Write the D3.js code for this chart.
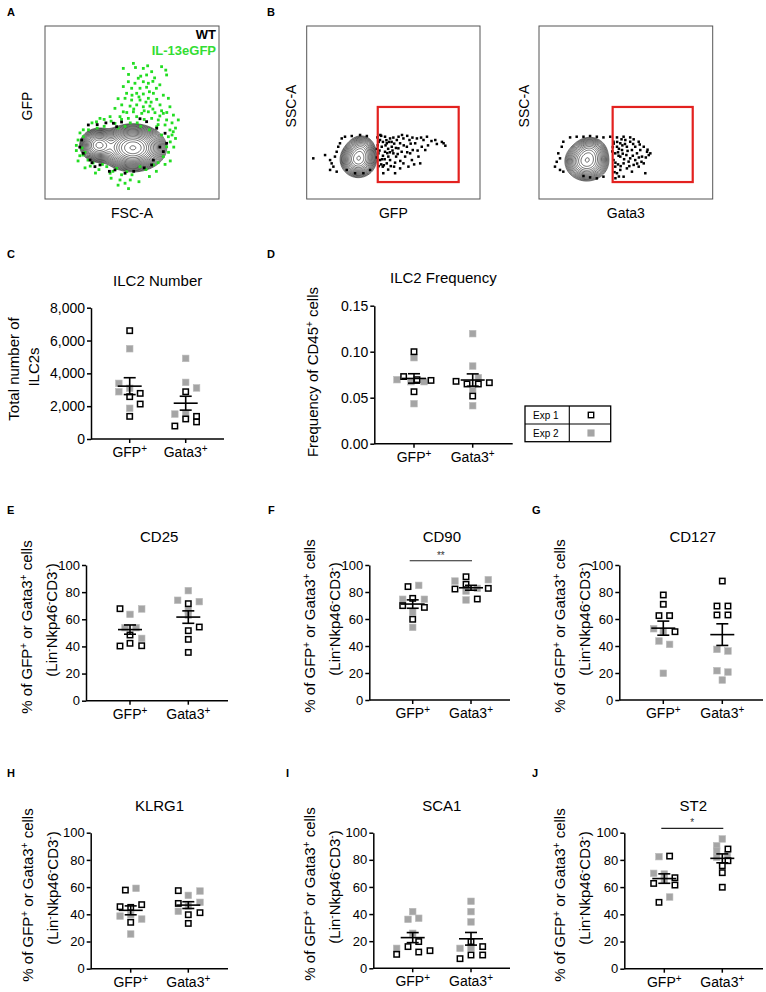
<!DOCTYPE html>
<html><head><meta charset="utf-8">
<script src="https://cdn.jsdelivr.net/npm/d3@7"></script>
<style>
body{margin:0;background:#fff;}
svg{display:block;font-family:"Liberation Sans",Arial,sans-serif;}
</style></head><body>
<svg id="fig" width="766" height="992"></svg>
<script>
// ================= DATA =================
const groups = ["GFP+", "Gata3+"];
const experiments = ["Exp 1", "Exp 2"];
const pctTicks = [0, 20, 40, 60, 80, 100];
const numberTicks = [0, 2000, 4000, 6000, 8000];
const freqTicks = [0, 0.05, 0.10, 0.15];

// each point: [value, column slot in the scatter (marker widths)]
const numberExp1 = {"GFP+": [[6600,0],[2780,1.5],[2580,0],[2130,1.5],[1380,0]],
                    "Gata3+": [[2880,0],[1220,0],[1380,1.55],[1040,1.55],[790,-1.55]]};
const numberExp2 = {"GFP+": [[5500,0],[3390,-1.55],[2880,-1.55],[3090,0],[1870,0]],
                    "Gata3+": [[4910,0],[3450,0],[3110,1.55],[1520,-1.55],[1520,0]]};

const freqExp1 = {"GFP+": [[0.100,0],[0.073,-1.48],[0.0696,0.43],[0.0688,2.43],[0.0565,0]],
                  "Gata3+": [[0.0678,-2.38],[0.0649,-0.81],[0.0649,0.81],[0.0663,2.38],[0.0518,0]]};
const freqExp2 = {"GFP+": [[0.0935,0],[0.0696,-2.43],[0.0674,-0.43],[0.0674,1.43],[0.0435,0]],
                  "Gata3+": [[0.1196,0],[0.0844,0],[0.0717,0.81],[0.0594,0],[0.0413,0]]};

const cd25Exp1 = {"GFP+": [[67.8,-1.43],[48.4,0],[42.3,0],[40.3,-1.43],[40.5,1.67]],
                  "Gata3+": [[71.5,0],[54.3,1.57],[51.6,0],[45.2,0],[35.6,0]]};
const cd25Exp2 = {"GFP+": [[63.6,0],[67.6,1.67],[53.8,-0.71],[53.8,0.86],[45.9,1.67]],
                  "Gata3+": [[81.1,0],[74.0,-1.52],[73.0,1.57],[66.8,0],[63.1,0]]};

const cd90Exp1 = {"GFP+": [[84.0,-0.67],[75.3,0],[69.9,-1.43],[68.6,1.67],[59.8,0]],
                  "Gata3+": [[91.3,-0.71],[85.7,-0.71],[82.2,-2.29],[82.7,2.47],[74.8,0.9]]};
const cd90Exp2 = {"GFP+": [[84.9,0.86],[74.6,-1.43],[74.6,1.67],[65.2,0],[53.8,0]],
                  "Gata3+": [[88.1,-2.29],[89.1,2.47],[82.7,0.9],[80.7,-0.71],[74.1,-0.71]]};

const cd127Exp1 = {"GFP+": [[77.8,0],[70.9,0],[62.5,-0.62],[62.5,0.9],[50.6,1.67]],
                   "Gata3+": [[88.1,0],[69.6,-0.76],[69.6,0.81],[63.0,-0.76],[63.0,0.81]]};
const cd127Exp2 = {"GFP+": [[52.8,-1.38],[50.4,0],[43.7,-0.62],[41.2,0.9],[19.8,0]],
                   "Gata3+": [[37.5,-0.76],[36.3,0.81],[21.7,-0.76],[20.7,0.81],[14.8,0]]};

const klrg1Exp1 = {"GFP+": [[57.8,-0.76],[45.6,-1.52],[45.1,0],[47.1,1.57],[34.1,0]],
                   "Gata3+": [[57.4,-1.43],[48.0,-1.43],[41.2,1.67],[39.7,0],[33.3,0]]};
const klrg1Exp2 = {"GFP+": [[59.1,0.76],[38.7,-1.52],[39.7,0],[36.5,1.57],[25.5,0]],
                   "Gata3+": [[57.1,1.67],[53.9,0],[48.8,1.67],[46.0,0],[42.2,-1.43]]};

const sca1Exp1 = {"GFP+": [[19.7,0.86],[16.0,-0.67],[10.3,-2.29],[12.0,0.86],[13.0,2.47]],
                  "Gata3+": [[19.7,0],[16.0,1.67],[7.1,-1.57],[9.8,0],[9.8,1.67]]};
const sca1Exp2 = {"GFP+": [[41.8,0],[36.1,-0.67],[36.9,0.86],[25.8,0],[14.7,-2.29]],
                  "Gata3+": [[49.4,0],[41.8,0],[34.2,0],[14.7,-1.57],[15.2,0]]};

const st2Exp1 = {"GFP+": [[82.8,0.76],[62.7,-1.52],[66.9,1.52],[61.5,1.52],[48.8,-0.76]],
                 "Gata3+": [[88.0,0.81],[79.4,0.81],[75.7,0],[70.6,0],[59.9,0]]};
const st2Exp2 = {"GFP+": [[82.4,-0.76],[70.1,-1.52],[69.6,0],[65.2,0],[52.7,0.76]],
                 "Gata3+": [[95.4,0],[90.4,-0.8],[86.5,-0.8],[81.9,-0.8],[83.6,0.74]]};

// significance brackets: [from group, to group, label]
const cd90Sig = ["GFP+", "Gata3+", "**"];
const st2Sig = ["GFP+", "Gata3+", "*"];

// ---- flow cytometry panels (axis units 0-100) ----
// density components: [cx, cy, sx, sy, weight]
const wtContour = [[50.5, 30, 6.6, 4.7, 1], [31, 31.5, 4.2, 3.7, 0.42]];
const gfpContour = [[29.8, 23, 4.0, 4.0, 1], [31.5, 29, 3.4, 3.4, 0.35]];
const gata3Contour = [[27.5, 22, 4.8, 4.3, 1], [29.5, 28, 4.0, 3.5, 0.35]];
// gates [x0, x1, y0, y1]
const gfpGate = [41, 87.7, 9.8, 53.2];
const gata3Gate = [42.4, 88.5, 9.8, 53.2];

const il13Dots = [[50.8,78.4],[45.0,75.5],[56.5,75.5],[67.0,76.5],[69.4,74.5],[61.3,73.6],[58.4,71.7],[53.6,69.8],[69.9,71.7],
 [47.9,67.8],[51.7,66.9],[56.5,67.8],[59.4,66.9],[49.8,64.0],[54.6,64.0],[58.4,64.6],[46.9,61.1],[52.7,61.1],[56.5,60.7],
 [62.3,61.1],[46.0,58.2],[49.8,57.2],[54.6,57.2],[59.4,58.2],[64.2,57.6],[70.9,58.2],[44.1,54.4],[48.9,53.7],[52.7,54.4],
 [56.5,53.3],[60.3,53.7],[66.1,54.4],[71.8,53.3],[40.2,52.4],[45.0,50.4],[50.8,50.4],[55.6,49.5],[59.4,50.4],[63.2,49.9],
 [68.0,49.5],[73.8,48.5],[76.6,45.7],[43.1,47.6],[47.9,46.6],[52.7,47.6],[61.3,46.6],[65.1,45.7],[69.9,45.7],[37.4,47.6],
 [31.6,46.6],[40.2,43.7],[29.6,44.6],[64.2,41.8],[69.0,42.8],[71.8,39.9],[48,72],[62,68],[54,59],[58,56],[51,52],[47,50],
 [62,52],[57,46],[53,44],[66,48],[44,46],[60,62],[64,64],[68,60],[55,71],
 [52,76],[59,77],[63,70],[66,66],[50,60],[45,65],[42,58],[61,56],[67,51],[70,50],[57,51],[49,44],[55,42],[60,40],[73,44],
 [75,41],[65,43],[46,42],[42,41],[38,45],[34,46],[27,44],[22,40],[18,28],[19,22],[23,18],[29,15],[42,8],[48,6],[54,10],
 [60,13],[64,16],[69,20],[72,22],[74,30],[75,35],[73,37],
 [20.1,38.2],[19,34.1],[21.3,29.5],[21.8,25.4],[24.7,22.5],[27.6,20.8],[35.5,18.7],[41.2,17.7],[47,15.8],[37.4,14.9],
 [43.1,11],[46,9.1],[54.6,18.7],[62.3,19.7],[68,24.5],[69.9,30.2],[70.9,36],[73.7,38.9],[18,31],[22,36],[25,40],[30,41],
 [34,42],[26,19],[31,17],[39,16],[50,14],[58,17],[65,21],[71,27],[72,33],[67,37],[38,12],[44,14],[49,11],[33,20],[23,27],[20,25]];
const wtDots = [[24.9,42.8],[39.3,43.8],[41.2,41.8],[54.6,46.4],[58.4,44.7],[64.2,40.9],[69,38],[69.9,32.2],[68,27.4],
 [62.3,22.5],[61.3,19.7],[46,14.9],[40.2,16.8],[31.6,19.7],[25.9,22.5],[22,26.4],[21.1,34.1],[28.7,18.7],[44,44.5],[35,44],
 [57,18],[66,30],[30,43],[20,30],[51,16],[37,16],[27,21]];
const gfpDots = [[3.8,23.5],[10.6,25.4],[13.5,22.5],[14.4,20.6],[15.4,18.7],[16.3,24.5],[17.3,27.3],[18.2,30.2],[19.2,32.2],
 [20.2,35],[13.5,16.8],[17.3,15.8],[22.1,36],[26,36.4],[30.8,37],[34.7,36.4],[23.1,16.8],[27.9,14.9],[32.7,14.9],[36.6,16.8],
 [40.8,35.6],[42.3,34.1],[43.3,30.2],[41.4,26.4],[42.3,22.5],[43.9,18.7],[45.2,36],[46.2,32.2],[45.2,27.3],[47.1,24.5],
 [46.2,20.6],[48.1,35],[49.1,30.2],[50,26.4],[48.1,22.5],[50.4,18.7],[52,34.1],[52.9,29.3],[51.6,24.5],[53.9,32.2],
 [54.8,27.3],[55.8,35],[56.8,24.5],[57.8,30.2],[59.3,34.1],[59.7,26.4],[61.2,28.3],[62.6,32.2],[63.6,35],[64.5,24.5],
 [66.4,30.2],[67.4,34.1],[68.4,28.3],[69.4,36],[65.5,20.6],[60.7,22.5],[55.8,20.6],[58.7,18.7],[53.9,17.7],[51,14.9],
 [44.2,14.9],[74.2,34.1],[75.1,31.8],[78,33],[80,30.8],[79,32.2],[41,31],[44,33],[47,29],[49,33],[51,21],[53,36],[45,23],
 [42,28],[44,25],[47,17],[46,34],[50,35.5],[43,20],[48,27],[41.5,19],[43,36.5],
 [40.5,24],[40.5,29],[41.5,33],[42.5,37],[43.5,23],[44.5,19.5],[45.5,31],[46.5,26.5],[47.5,33],[48.5,19],[49.5,28],
 [50.5,32],[51.5,29.5],[52.5,26],[54,22],[56,31],[58,27],[60,32],[62,20],[64,28],[70,31],[72,33.5],[55,37],[58,36.5],
 [61,35.5],[66,35.5]];
const gata3Dots = [[9.2,18.7],[10.2,21.5],[11.1,26.4],[12.1,23.5],[13.1,30.2],[14,33.1],[12.1,16.8],[14,15.8],
 [17.9,35.6],[21.7,36],[25.6,36],[29.4,36.4],[33.3,36],[37.1,35.6],[41,36],[44.9,35.6],[48.7,36],[52.5,35.6],[54.5,34.5],
 [42.9,33.1],[44.9,30.2],[43.9,26.4],[42.9,22.5],[43.9,18.7],[44.9,14.9],[46.8,32.2],[47.8,28.3],[46.8,24.5],[48.7,20.6],
 [46.8,16.8],[49.7,34.1],[50.6,30.2],[50.3,25.4],[51.6,21.6],[50.6,17.7],[52.5,33.1],[53.5,28.3],[52.5,23.5],[54.5,19.7],
 [53.5,15.8],[55.4,30.2],[56.4,26.4],[55.4,22.5],[57.4,18.7],[58.3,28.3],[59.3,24.5],[60.3,30.2],[60.3,20.6],[62.2,27.3],
 [63.2,25.4],[64.1,26.4],[61.2,14.9],[57.4,33.1],[48.7,12.9],[37.1,12.9],[33.3,11.9],[29.4,12.5],[25.6,13.3],[44,21],
 [45.5,27],[42.5,30],[45,33],[48,31],[49,23],[47,19],
 [42.2,27.5],[43,32],[43.5,15.5],[45.5,20],[45.8,25],[46,29],[47.5,34.5],[48.2,26.2],[49.5,31.8],[51,27.8],[52,19],
 [54,25],[54.2,31.8],[56.5,20.5],[57.5,24],[59,21.5],[61.5,24],[62.5,28.5],[58,31.5],[46,13],[44,12]];

// ================= DRAWING =================
const svg = d3.select("#fig");
const FONT = "Liberation Sans, Arial, sans-serif";

function rich(text, parts, supSize, shift) {
  let cur = 0;
  parts.forEach(p => {
    const target = p[1] ? -shift : 0;
    const ts = text.append("tspan").attr("dy", target - cur).text(p[0]);
    if (p[1]) ts.attr("font-size", supSize);
    cur = target;
  });
}
const groupLabel = {"GFP+": [["GFP"], ["+", 1]], "Gata3+": [["Gata3"], ["+", 1]]};

// panel letters
[["A",7,16],["B",267,16],["C",7,258],["D",267,258],["E",7,514],["F",268,514],["G",532,514],["H",7,777],["I",286,777],["J",532,777]]
  .forEach(([t,x,y]) => svg.append("text").attr("x",x).attr("y",y).attr("font-size",11).attr("font-weight","bold").text(t));

// ---------- flow plots ----------
function densityGrid(parts, n) {
  const v = new Float64Array(n*n);
  let mx = 0;
  for (let j = 0; j < n; j++) for (let i = 0; i < n; i++) {
    const dx = (i + 0.5) * 100 / n, dy = 100 - (j + 0.5) * 100 / n;
    let s = 0;
    parts.forEach(([cx, cy, sx, sy, w]) => {
      s += w * Math.exp(-((dx-cx)*(dx-cx)/(2*sx*sx) + (dy-cy)*(dy-cy)/(2*sy*sy)));
    });
    v[j*n+i] = s; if (s > mx) mx = s;
  }
  for (let k = 0; k < v.length; k++) v[k] /= mx;
  return v;
}
function flowPanel(o) {
  const g = svg.append("g");
  const x = d3.scaleLinear().domain([0,100]).range([o.x0, o.x1]);
  const y = d3.scaleLinear().domain([0,100]).range([o.y1, o.y0]);
  const n = 160;
  const vals = densityGrid(o.contour, n);
  const L = o.levels, lo = o.lo, hi = 0.97;
  const th = d3.range(L).map(k => lo * Math.pow(hi/lo, k/(L-1)));
  const cs = d3.contours().size([n,n]).thresholds(th)(vals);
  const path = d3.geoPath(d3.geoIdentity().scale((o.x1-o.x0)/n).translate([o.x0, o.y0]));
  g.selectAll("path.c").data(cs).join("path").attr("class","c").attr("d", path)
    .attr("fill", (d,i) => i === 0 ? "#fff" : "none").attr("stroke", "#111").attr("stroke-width", 0.6);
  o.dots.forEach(set => {
    g.selectAll(null).data(set.data).join("rect")
      .attr("x", d => x(d[0]) - set.size/2).attr("y", d => y(d[1]) - set.size/2)
      .attr("width", set.size).attr("height", set.size).attr("fill", set.color);
  });
  if (o.gate) {
    g.append("rect").attr("x", x(o.gate[0])).attr("y", y(o.gate[3]))
      .attr("width", x(o.gate[1]) - x(o.gate[0])).attr("height", y(o.gate[2]) - y(o.gate[3]))
      .attr("fill","none").attr("stroke","#e3211f").attr("stroke-width",2.2);
  }
  g.append("rect").attr("x", o.x0).attr("y", o.y0).attr("width", o.x1-o.x0).attr("height", o.y1-o.y0)
    .attr("fill","none").attr("stroke","#555").attr("stroke-width",1);
  g.append("text").attr("x", (o.x0+o.x1)/2).attr("y", 218).attr("text-anchor","middle").attr("font-size",14).text(o.xlab);
  g.append("text").attr("transform", `translate(${o.ylx},106) rotate(-90)`).attr("text-anchor","middle")
    .attr("font-size",14).text(o.ylab);
}
flowPanel({x0:45, x1:219, y0:26, y1:199, contour: wtContour, levels: 20, lo: 0.013,
  dots: [{data: il13Dots, color: "#22dd22", size: 2.8}, {data: wtDots, color: "#000", size: 2.8}],
  xlab: "FSC-A", ylab: "GFP", ylx: 32});
svg.append("text").attr("x",216).attr("y",39).attr("text-anchor","end").attr("font-size",13).attr("font-weight","bold").text("WT");
svg.append("text").attr("x",216).attr("y",55).attr("text-anchor","end").attr("font-size",13).attr("font-weight","bold")
  .attr("fill","#33dd33").text("IL-13eGFP");
flowPanel({x0:306.7, x1:480, y0:26, y1:199, contour: gfpContour, levels: 15, lo: 0.03,
  dots: [{data: gfpDots, color: "#000", size: 2.5}], gate: gfpGate, xlab: "GFP", ylab: "SSC-A", ylx: 296});
flowPanel({x0:539, x1:712.7, y0:26, y1:199, contour: gata3Contour, levels: 15, lo: 0.03,
  dots: [{data: gata3Dots, color: "#000", size: 2.5}], gate: gata3Gate, xlab: "Gata3", ylab: "SSC-A", ylx: 529});

// ---------- scatter / mean ± SEM plots ----------
const yLabPct1 = [["% of GFP"],["+",1],[" or Gata3"],["+",1],[" cells"]];
const yLabPct2 = [["(Lin"],["-",1],["Nkp46"],["-",1],["CD3"],["-",1],[")"]];

function scatterPanel(o) {
  const g = svg.append("g");
  const y = d3.scaleLinear().domain(o.domain).range([o.yBot, o.yTop]);
  const x = d3.scalePoint().domain(groups).range(o.cats);
  const jit = d3.scaleLinear().domain([-1, 1]).range([-7, 7]);
  // y axis
  const ya = g.append("g").attr("transform", `translate(${o.ax},0)`)
    .call(d3.axisLeft(y).tickValues(o.ticks).tickFormat(o.fmt).tickSize(4).tickSizeOuter(0).tickPadding(2));
  ya.attr("font-family", FONT).attr("font-size", o.tickFont);
  ya.selectAll("path,line").attr("stroke","#000").attr("stroke-width",1.5);
  ya.selectAll("text").attr("fill","#000");
  // x axis
  g.append("line").attr("x1", o.ax).attr("x2", o.xEnd).attr("y1", o.yBot).attr("y2", o.yBot)
    .attr("stroke","#000").attr("stroke-width",1.5);
  groups.forEach(k => {
    g.append("line").attr("x1", x(k)).attr("x2", x(k)).attr("y1", o.yBot).attr("y2", o.yBot + 4)
      .attr("stroke","#000").attr("stroke-width",1.5);
    const t = g.append("text").attr("x", x(k)).attr("y", o.yBot + 18).attr("text-anchor","middle").attr("font-size", 14);
    rich(t, groupLabel[k], 10, 5);
  });
  // points: Exp 2 grey filled, Exp 1 black open
  const s = 5.4;
  groups.forEach(k => {
    g.selectAll(null).data(o.e2[k]).join("rect")
      .attr("x", d => x(k) + jit(d[1]) - 3.3).attr("y", d => y(d[0]) - 3.3)
      .attr("width", 6.6).attr("height", 6.6).attr("fill", "#a5a5a5").attr("stroke","#bcbcbc").attr("stroke-width",0.6);
    g.selectAll(null).data(o.e1[k]).join("rect")
      .attr("x", d => x(k) + jit(d[1]) - s/2).attr("y", d => y(d[0]) - s/2)
      .attr("width", s).attr("height", s).attr("fill", "#fff").attr("stroke","#000").attr("stroke-width",1.5);
  });
  // mean ± SEM
  groups.forEach(k => {
    const vals = o.e1[k].concat(o.e2[k]).map(d => d[0]);
    const m = d3.mean(vals), sem = d3.deviation(vals) / Math.sqrt(vals.length);
    const cx = x(k);
    const ln = (x1,y1,x2,y2) => g.append("line").attr("x1",x1).attr("y1",y1).attr("x2",x2).attr("y2",y2)
      .attr("stroke","#000").attr("stroke-width",1.6);
    ln(cx-12, y(m), cx+12, y(m));
    ln(cx, y(m-sem), cx, y(m+sem));
    ln(cx-6, y(m+sem), cx+6, y(m+sem));
    ln(cx-6, y(m-sem), cx+6, y(m-sem));
  });
  // significance
  if (o.sig) {
    const yy = y(103.2);
    g.append("line").attr("x1", x(o.sig[0]) - 3).attr("x2", x(o.sig[1]) + 1).attr("y1", yy).attr("y2", yy)
      .attr("stroke","#222").attr("stroke-width",1.1);
    g.append("text").attr("x", (x(o.sig[0]) + x(o.sig[1]))/2 - 1).attr("y", yy - 2).attr("text-anchor","middle")
      .attr("font-size", 10).attr("fill","#333").text(o.sig[2]);
  }
  // title
  g.append("text").attr("x", d3.mean(o.cats)).attr("y", o.titleY).attr("text-anchor","middle")
    .attr("font-size", 15).text(o.title);
  // y label lines
  o.ylab.forEach((parts, i) => {
    const t = g.append("text").attr("transform", `translate(${o.labX[i]},${o.labY[i]}) rotate(-90)`)
      .attr("text-anchor","middle").attr("font-size", o.labFont);
    rich(t, parts, 10, 5);
  });
  return {x, y};
}

const pctFmt = d3.format("d");
scatterPanel({title:"ILC2 Number", e1:numberExp1, e2:numberExp2, domain:[0,8000], ticks:numberTicks, fmt:d3.format(","),
  ax:91, xEnd:224, yTop:307.7, yBot:439, cats:[129.7,185.7], titleY:285.5, tickFont:14,
  ylab:[[["Total number of"]],[["ILC2s"]]], labX:[19,39], labY:[369,367], labFont:15});
scatterPanel({title:"ILC2 Frequency", e1:freqExp1, e2:freqExp2, domain:[0,0.15], ticks:freqTicks, fmt:d3.format(".2f"),
  ax:374.3, xEnd:512.7, yTop:305.7, yBot:443.7, cats:[414,472.7], titleY:282.5, tickFont:14,
  ylab:[[["Frequency of CD45"],["+",1],[" cells"]]], labX:[318], labY:[372], labFont:15});

const pctPanels = [
  {title:"CD25", e1:cd25Exp1, e2:cd25Exp2, ax:86, xEnd:228, yTop:565, yBot:700.7, cats:[130,188.3], titleY:541.5, labX:[32,57], labY:[627,620]},
  {title:"CD90", e1:cd90Exp1, e2:cd90Exp2, ax:369.3, xEnd:510, yTop:565, yBot:700, cats:[412.7,471], titleY:541.5, labX:[315,340], labY:[626,619], sig:cd90Sig},
  {title:"CD127", e1:cd127Exp1, e2:cd127Exp2, ax:619.3, xEnd:763, yTop:565, yBot:700, cats:[663.3,722.3], titleY:541.5, labX:[565,590], labY:[626,619]},
  {title:"KLRG1", e1:klrg1Exp1, e2:klrg1Exp2, ax:90.7, xEnd:228, yTop:832.7, yBot:968.7, cats:[130.7,188.3], titleY:810.5, labX:[33,58], labY:[895,888]},
  {title:"SCA1", e1:sca1Exp1, e2:sca1Exp2, ax:373.3, xEnd:510, yTop:832.7, yBot:968.3, cats:[412.7,471], titleY:810.5, labX:[315,340], labY:[894,887]},
  {title:"ST2", e1:st2Exp1, e2:st2Exp2, ax:624.3, xEnd:763, yTop:832.7, yBot:968.7, cats:[664.3,722.3], titleY:810.5, labX:[565,590], labY:[895,888], sig:st2Sig}
];
pctPanels.forEach(p => scatterPanel(Object.assign({domain:[0,100], ticks:pctTicks, fmt:pctFmt, tickFont:13,
  ylab:[yLabPct1, yLabPct2], labFont:15}, p)));

// ---------- legend (panel D) ----------
const lg = svg.append("g");
const lx0 = 525, lx1 = 610.7, ly0 = 406, lyMid = 424, ly1 = 441.7, lxMid = 569.3;
lg.append("rect").attr("x", lx0).attr("y", ly0).attr("width", lx1-lx0).attr("height", ly1-ly0)
  .attr("fill","none").attr("stroke","#000").attr("stroke-width",1.3);
lg.append("line").attr("x1", lx0).attr("x2", lx1).attr("y1", lyMid).attr("y2", lyMid).attr("stroke","#000").attr("stroke-width",1.1);
lg.append("line").attr("x1", lxMid).attr("x2", lxMid).attr("y1", ly0).attr("y2", ly1).attr("stroke","#000").attr("stroke-width",1.1);
const rowY = d3.scalePoint().domain(experiments).range([ly0 + 9, lyMid + 9]);
experiments.forEach((e, i) => {
  lg.append("text").attr("x", lx0 + 8).attr("y", rowY(e) + 3.5).attr("font-size", 10).text(e);
  const cx = (lxMid + lx1) / 2 + 1;
  if (i === 0) lg.append("rect").attr("x", cx-2.7).attr("y", rowY(e)-2.7).attr("width",5.4).attr("height",5.4)
    .attr("fill","#fff").attr("stroke","#000").attr("stroke-width",1.4);
  else lg.append("rect").attr("x", cx-3.3).attr("y", rowY(e)-3.3).attr("width",6.6).attr("height",6.6)
    .attr("fill","#a5a5a5").attr("stroke","#bcbcbc").attr("stroke-width",0.6);
});
</script>
</body></html>
